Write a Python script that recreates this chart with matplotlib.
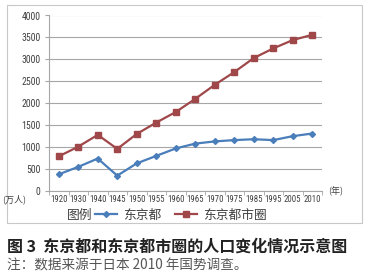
import matplotlib
matplotlib.use("Agg")
import matplotlib.pyplot as plt
from matplotlib.patches import Rectangle

plt.rcParams['font.family'] = ['Noto Sans CJK SC', 'DejaVu Sans']
narrow = ['Roboto Condensed', 'DejaVu Sans']

years = ['1920', '1930', '1940', '1945', '1950', '1955', '1960', '1965',
         '1970', '1975', '1985', '1995', '2005', '2010']
tokyo = [380, 550, 740, 350, 630, 800, 970, 1080, 1130, 1160, 1180, 1160, 1250, 1310]
tokyo_area = [790, 1010, 1280, 960, 1300, 1560, 1800, 2100, 2420, 2710, 3030, 3250, 3440, 3560]
yticks = [0, 500, 1000, 1500, 2000, 2500, 3000, 3500, 4000]

blue = '#4a7ebb'
red = '#a0474a'
grid = '#a6a6a6'
txt = '#404040'

fig = plt.figure(figsize=(3.67, 2.77), dpi=100)
fig.patches.append(Rectangle((7 / 367, 1 - 223 / 277), 355 / 367, 218 / 277,
                             transform=fig.transFigure, fill=False,
                             edgecolor='#c8c8c8', lw=0.8))

ax = fig.add_axes([49 / 367, 1 - 191 / 277, 273 / 367, 175.5 / 277])
x = list(range(len(years)))
l1, = ax.plot(x, tokyo, color=blue, lw=1.6, marker='D', ms=3, label='东京都')
l2, = ax.plot(x, tokyo_area, color=red, lw=1.6, marker='s', ms=5, label='东京都市圈')

ax.set_xlim(-0.5, len(years) - 0.5)
ax.set_ylim(0, 4000)
ax.set_yticks(yticks)
ax.set_yticklabels([str(v) for v in yticks], fontsize=7, family=narrow, color=txt)
ax.set_xticks(x)
ax.set_xticklabels(years, fontsize=6.3, family=narrow, color=txt)
ax.set_xticks([i - 0.5 for i in range(len(years) + 1)], minor=True)
ax.tick_params(axis='x', which='major', length=0, pad=3)
ax.tick_params(axis='x', which='minor', length=3, color=grid)
ax.tick_params(axis='y', length=3, color=grid, pad=3)
ax.grid(axis='y', color=grid, lw=0.8)
ax.set_axisbelow(True)
for s in ['top', 'right']:
    ax.spines[s].set_visible(False)
for s in ['left', 'bottom']:
    ax.spines[s].set_color(grid)

fig.text(2 / 367, 1 - 199 / 277, '(万人)', fontsize=6.5, color=txt, va='center')
fig.text(328 / 367, 1 - 191 / 277, '(年)', fontsize=6.5, color=txt, va='center')

fig.text(67 / 367, 1 - 215 / 277, '图例', fontsize=9.2, color=txt, va='center')
fig.legend(handles=[l1, l2], ncol=2, loc='center left',
           bbox_to_anchor=(95 / 367, 1 - 215 / 277), frameon=False,
           prop={'size': 9.2}, labelcolor=txt, handlelength=1.7,
           handletextpad=0.5, columnspacing=1.1, borderaxespad=0, borderpad=0)

fig.text(7 / 367, 1 - 247 / 277, '图 3  东京都和东京都市圈的人口变化情况示意图',
         fontsize=11.5, fontweight='bold', color='#222222', va='center')
fig.text(7 / 367, 1 - 265 / 277, '注：数据来源于日本 2010 年国势调查。',
         fontsize=9.8, color='#555555', va='center')

fig.savefig('out.png', dpi=100)
